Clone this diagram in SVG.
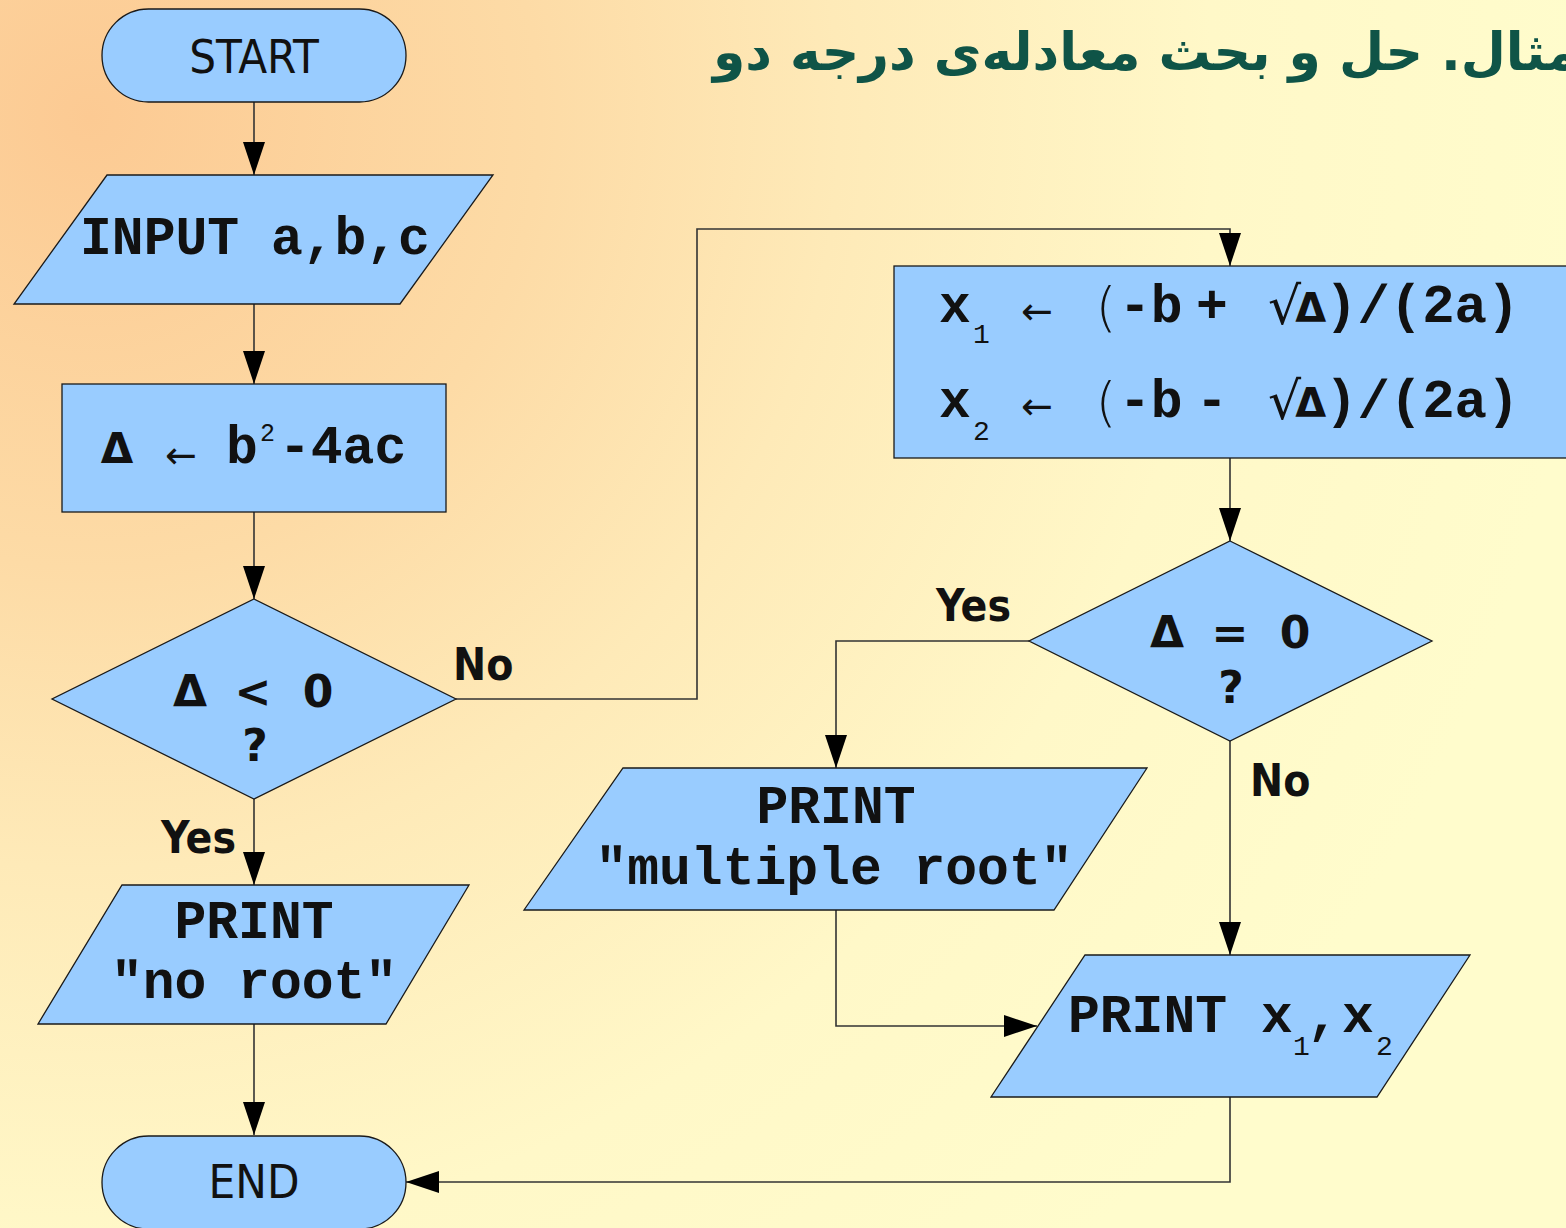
<svg xmlns="http://www.w3.org/2000/svg" width="1566" height="1228" viewBox="0 0 1566 1228">
<defs>
<radialGradient id="bg" gradientUnits="userSpaceOnUse" cx="90" cy="118" r="1500">
<stop offset="0" stop-color="#FCCA93"/>
<stop offset="0.3" stop-color="#FDDBA6"/>
<stop offset="0.5" stop-color="#FEEAB8"/>
<stop offset="0.75" stop-color="#FFF8C8"/>
<stop offset="1" stop-color="#FFFCCC"/>
</radialGradient>
<marker id="arr" markerUnits="userSpaceOnUse" markerWidth="33" markerHeight="22" refX="33" refY="11" orient="auto" viewBox="0 0 33 22">
<path d="M0,0 L33,11 L0,22 Z" fill="#000"/>
</marker>
<style>
.shape{fill:#99CCFF;stroke:#1a1a1a;stroke-width:1.3}
.conn{fill:none;stroke:#333;stroke-width:1.6}
.mono{font-family:"Liberation Mono","Courier New",monospace;font-weight:bold;font-size:53px;fill:#111}
.sub{font-family:"Liberation Mono","Courier New",monospace;font-size:28px;fill:#111}
.sans{font-family:"DejaVu Sans Condensed","DejaVu Sans",sans-serif;font-size:47px;fill:#111}
.lbl{font-family:"DejaVu Sans Condensed","DejaVu Sans",sans-serif;font-weight:bold;font-size:44px;fill:#111}
.dj{font-family:"DejaVu Sans",sans-serif;font-weight:bold;font-size:44px;fill:#111}
.thin{font-family:"DejaVu Sans",sans-serif;font-size:38px;fill:#111}
</style>
</defs>
<rect x="0" y="0" width="1566" height="1228" fill="url(#bg)"/>
<text x="713" y="70" direction="rtl" text-anchor="end" font-family="'DejaVu Sans',sans-serif" font-weight="bold" font-size="52" fill="#0F5447">مثال. حل و بحث معادله‌ی درجه دو</text>

<g id="connectors">
<path class="conn" d="M254,102 V175" marker-end="url(#arr)"/>
<path class="conn" d="M254,304 V384" marker-end="url(#arr)"/>
<path class="conn" d="M254,512 V599" marker-end="url(#arr)"/>
<path class="conn" d="M254,799 V885" marker-end="url(#arr)"/>
<path class="conn" d="M254,1024 V1135" marker-end="url(#arr)"/>
<path class="conn" d="M456,699 H697 V229 H1230 V266" marker-end="url(#arr)"/>
<path class="conn" d="M1230,458 V541" marker-end="url(#arr)"/>
<path class="conn" d="M1029,641 H836 V768" marker-end="url(#arr)"/>
<path class="conn" d="M1230,741 V955" marker-end="url(#arr)"/>
<path class="conn" d="M836,910 V1026 H1037" marker-end="url(#arr)"/>
<path class="conn" d="M1230,1097 V1182 H406" marker-end="url(#arr)"/>
<text class="lbl" x="453" y="680">No</text>
<text class="lbl" x="161" y="853">Yes</text>
<text class="lbl" x="936" y="621">Yes</text>
<text class="lbl" x="1250" y="796">No</text>
</g>

<g id="start">
<rect class="shape" x="102" y="9" width="304" height="93" rx="46.5"/>
<text class="sans" x="254" y="73" text-anchor="middle">START</text>
</g>

<g id="input">
<polygon class="shape" points="107,175 493,175 400,304 14,304"/>
<text class="mono" x="255" y="254" text-anchor="middle">INPUT a,b,c</text>
</g>

<g id="delta">
<rect class="shape" x="62" y="384" width="384" height="128"/>
<text class="dj" x="117" y="463" text-anchor="middle" style="font-size:42px">Δ</text>
<text class="thin" x="181" y="468" text-anchor="middle">←</text>
<text class="mono" x="226" y="463">b</text>
<text class="sub" x="260" y="441" style="font-size:25px">2</text>
<text class="mono" x="279" y="463">-4ac</text>
</g>

<g id="cond1">
<polygon class="shape" points="254,599 456,699 254,799 52,699"/>
<text class="dj" x="190" y="707" text-anchor="middle">Δ</text>
<text class="dj" x="253" y="707" text-anchor="middle">&lt;</text>
<text class="dj" x="318" y="707" text-anchor="middle">0</text>
<text class="dj" x="255" y="761" text-anchor="middle">?</text>
</g>

<g id="noroot">
<polygon class="shape" points="122,885 469,885 386,1024 38,1024"/>
<text class="mono" x="254" y="938" text-anchor="middle">PRINT</text>
<text class="mono" x="254" y="998" text-anchor="middle">"no root"</text>
</g>

<g id="end">
<rect class="shape" x="102" y="1136" width="304" height="93" rx="46.5"/>
<text class="sans" x="254" y="1198" text-anchor="middle">END</text>
</g>

<g id="roots">
<rect class="shape" x="894" y="266" width="690" height="192"/>
<text class="mono" x="939" y="322">x</text>
<text class="sub" x="973" y="343">1</text>
<text class="thin" x="1037" y="324" text-anchor="middle">←</text>
<text class="thin" x="1106" y="326" text-anchor="middle" style="font-size:54px;font-weight:300">(</text>
<text class="mono" x="1119" y="322">-b</text>
<text class="mono" x="1196" y="322">+</text>
<text class="thin" x="1268" y="324" style="font-size:52px">√<tspan class="dj" dx="-6" dy="-2" style="font-size:40px">Δ</tspan><tspan class="mono" x="1325" style="font-size:54px">)/(2a)</tspan></text>
<text class="mono" x="939" y="417">x</text>
<text class="sub" x="973" y="440">2</text>
<text class="thin" x="1037" y="419" text-anchor="middle">←</text>
<text class="thin" x="1106" y="421" text-anchor="middle" style="font-size:54px;font-weight:300">(</text>
<text class="mono" x="1119" y="417">-b</text>
<text class="mono" x="1196" y="417">-</text>
<text class="thin" x="1268" y="419" style="font-size:52px">√<tspan class="dj" dx="-6" dy="-2" style="font-size:40px">Δ</tspan><tspan class="mono" x="1325" style="font-size:54px">)/(2a)</tspan></text>
</g>

<g id="cond2">
<polygon class="shape" points="1230,541 1432,641 1230,741 1029,641"/>
<text class="dj" x="1167" y="648" text-anchor="middle">Δ</text>
<text class="dj" x="1230" y="648" text-anchor="middle">=</text>
<text class="dj" x="1295" y="648" text-anchor="middle">0</text>
<text class="dj" x="1231" y="703" text-anchor="middle">?</text>
</g>

<g id="multiple">
<polygon class="shape" points="623,768 1147,768 1054,910 524,910"/>
<text class="mono" x="836" y="823" text-anchor="middle">PRINT</text>
<text class="mono" x="834" y="884" text-anchor="middle">"multiple root"</text>
</g>

<g id="printx">
<polygon class="shape" points="1085,955 1470,955 1377,1097 991,1097"/>
<text class="mono" x="1068" y="1032">PRINT</text>
<text class="mono" x="1261" y="1032">x</text>
<text class="sub" x="1293" y="1055">1</text>
<text class="mono" x="1307" y="1032">,</text>
<text class="mono" x="1342" y="1032">x</text>
<text class="sub" x="1376" y="1055">2</text>
</g>
</svg>
